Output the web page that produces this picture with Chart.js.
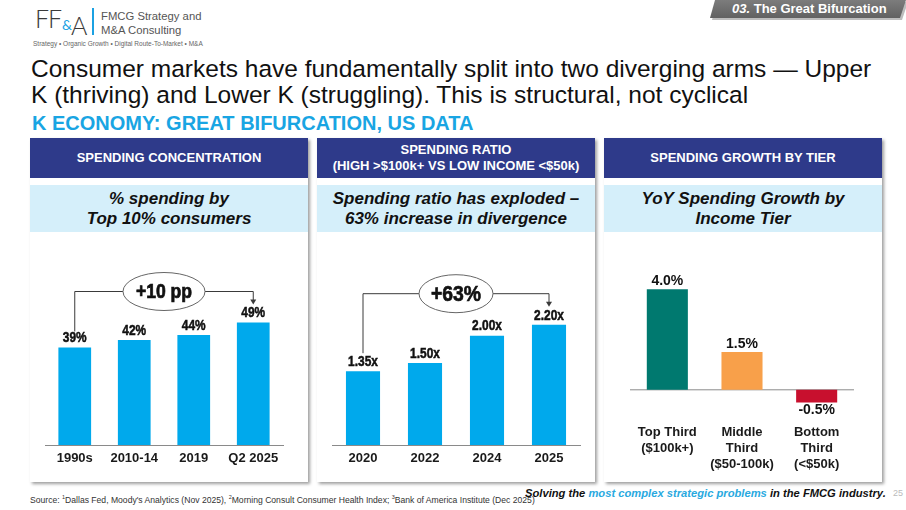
<!DOCTYPE html>
<html><head><meta charset="utf-8">
<script src="https://cdn.jsdelivr.net/npm/chart.js@4.4.1/dist/chart.umd.min.js"></script>
<style>
html,body{margin:0;padding:0;}
body{width:906px;height:510px;position:relative;overflow:hidden;background:#fff;font-family:"Liberation Sans",Arial,sans-serif;}
.abs{position:absolute;}
.card{position:absolute;top:138px;height:344px;width:278px;background:#fff;box-shadow:2px 2px 3px rgba(0,0,0,0.38);}
.hdr{position:absolute;left:0;top:0;width:100%;height:40px;background:#2E3A8A;color:#fff;font-weight:bold;font-size:13px;display:flex;align-items:center;justify-content:center;text-align:center;line-height:16px;}
.sub{position:absolute;left:0;top:47px;width:100%;height:47px;background:#D5EFFA;color:#111;font-weight:bold;font-style:italic;font-size:17px;line-height:20px;display:flex;align-items:center;justify-content:center;text-align:center;}
canvas{position:absolute;}
</style></head>
<body>
<!-- logo -->
<div class="abs" style="left:35px;top:3px;font-family:Lato,'Open Sans',sans-serif;font-weight:300;font-size:25px;color:#3a3a3a;letter-spacing:-1px;">FF</div>
<div class="abs" style="left:62px;top:16px;font-family:Lato,sans-serif;font-weight:400;font-size:14px;color:#1BA1E2;">&amp;</div>
<div class="abs" style="left:71px;top:10px;font-family:Lato,sans-serif;font-weight:300;font-size:25px;color:#3a3a3a;">A</div>
<div class="abs" style="left:92px;top:8px;width:1.5px;height:27px;background:#1BA1E2;"></div>
<div class="abs" style="left:101px;top:9px;font-size:11.3px;line-height:14px;color:#555;">FMCG Strategy and<br>M&amp;A Consulting</div>
<div class="abs" style="left:33px;top:40px;font-size:6.5px;color:#666;white-space:nowrap;">Strategy • Organic Growth • Digital Route-To-Market • M&amp;A</div>

<!-- tab -->
<div class="abs" style="left:712px;top:2px;width:196px;height:18px;background:#bdbdbd;clip-path:polygon(5px 0,100% 0,calc(100% - 6px) 100%,0 100%);"></div>
<div class="abs" style="left:710px;top:0;width:196px;height:18px;background:linear-gradient(#7c7c7c,#616161);clip-path:polygon(5px 0,100% 0,calc(100% - 6px) 100%,0 100%);"></div>
<div class="abs" style="left:732px;top:1px;font-size:13px;line-height:16px;font-weight:bold;color:#fff;white-space:nowrap;"><i>03.</i> The Great Bifurcation</div>

<!-- title -->
<div class="abs" style="left:31px;top:55.5px;font-size:24.5px;line-height:26px;color:#111;white-space:nowrap;">Consumer markets have fundamentally split into two diverging arms — Upper<br>K (thriving) and Lower K (struggling). This is structural, not cyclical</div>
<div class="abs" style="left:32px;top:111.5px;font-size:20px;line-height:22px;font-weight:bold;color:#19A5E3;white-space:nowrap;">K ECONOMY: GREAT BIFURCATION, US DATA</div>

<!-- cards -->
<div class="card" style="left:30px;"><div class="hdr">SPENDING CONCENTRATION</div><div class="sub">% spending by<br>Top 10% consumers</div></div>
<div class="card" style="left:317px;"><div class="hdr">SPENDING RATIO<br>(HIGH &gt;$100k+ VS LOW INCOME &lt;$50k)</div><div class="sub">Spending ratio has exploded –<br>63% increase in divergence</div></div>
<div class="card" style="left:604px;"><div class="hdr">SPENDING GROWTH BY TIER</div><div class="sub">YoY Spending Growth by<br>Income Tier</div></div>

<canvas id="c1" width="280" height="230" style="left:30px;top:250px;"></canvas>
<canvas id="c2" width="278" height="230" style="left:318px;top:250px;"></canvas>
<canvas id="c3" width="278" height="230" style="left:605px;top:250px;"></canvas>

<!-- footer -->
<div class="abs" style="left:30px;top:492px;font-size:8.6px;line-height:10px;color:#333;white-space:nowrap;">Source: <sup style="font-size:5.5px">1</sup>Dallas Fed, Moody's Analytics (Nov 2025), <sup style="font-size:5.5px">2</sup>Morning Consult Consumer Health Index; <sup style="font-size:5.5px">3</sup>Bank of America Institute (Dec 2025)</div>
<div class="abs" style="left:525px;top:487px;font-size:11.2px;line-height:13px;font-weight:bold;font-style:italic;color:#111;white-space:nowrap;">Solving the <span style="color:#29A9E0">most complex strategic problems</span> in the FMCG industry.</div>
<div class="abs" style="left:893px;top:487px;font-size:9px;line-height:13px;color:#bbb;">25</div>

<script>
// ---- data ----
const concLabels = ['1990s', '2010-14', '2019', 'Q2 2025'];
const concValues = [39, 42, 44, 49];
const concDelta = '+10 pp';

const ratioLabels = ['2020', '2022', '2024', '2025'];
const ratioValues = [1.35, 1.50, 2.00, 2.20];
const ratioDelta = '+63%';

const tierLabels = [['Top Third', '($100k+)'], ['Middle', 'Third', '($50-100k)'], ['Bottom', 'Third', '(<$50k)']];
const tierValues = [4.0, 1.5, -0.5];
const tierColors = ['#00796F', '#F8A04A', '#C8102E'];

const FONT = '"Liberation Sans", Arial, sans-serif';

const valueLabels = {
  id: 'valueLabels',
  afterDatasetsDraw(chart, args, opts) {
    if (!opts.format) return;
    const ctx = chart.ctx;
    const meta = chart.getDatasetMeta(0);
    const data = chart.data.datasets[0].data;
    meta.data.forEach((bar, i) => {
      const v = data[i];
      const txt = opts.format(v);
      const y = v >= 0 ? bar.y - opts.offset : bar.y + opts.offset;
      ctx.save();
      ctx.font = opts.font;
      ctx.fillStyle = '#111';
      ctx.textAlign = 'center';
      ctx.textBaseline = 'middle';
      ctx.translate(bar.x, y);
      ctx.scale(opts.sx || 1, 1);
      ctx.fillText(txt, 0, 0);
      if (opts.heavy) { ctx.strokeStyle = '#111'; ctx.lineWidth = 0.5; ctx.strokeText(txt, 0, 0); }
      ctx.restore();
    });
  }
};

const bracket = {
  id: 'bracket',
  afterDatasetsDraw(chart, args, opts) {
    if (!opts.text) return;
    const ctx = chart.ctx;
    const meta = chart.getDatasetMeta(0);
    const first = meta.data[0], last = meta.data[meta.data.length - 1];
    const topY = Math.min(...meta.data.map(b => b.y));
    const by = topY - opts.rise;
    const x1 = first.x, x2 = last.x;
    const y1 = first.y - opts.gapFirst, y2 = last.y - opts.gapLast;
    const cx = chart.scales.x.getPixelForValue(opts.mid);
    ctx.save();
    ctx.strokeStyle = '#3a3a3a';
    ctx.lineWidth = 1;
    ctx.beginPath();
    ctx.moveTo(x1, y1); ctx.lineTo(x1, by); ctx.lineTo(x2, by); ctx.lineTo(x2, y2 - 4);
    ctx.stroke();
    ctx.fillStyle = '#3a3a3a';
    ctx.beginPath();
    ctx.moveTo(x2 - 3, y2 - 5); ctx.lineTo(x2 + 3, y2 - 5); ctx.lineTo(x2, y2); ctx.closePath();
    ctx.fill();
    ctx.beginPath();
    ctx.ellipse(cx, by, opts.rx, opts.ry, 0, 0, Math.PI * 2);
    ctx.fillStyle = '#fff';
    ctx.fill();
    ctx.strokeStyle = '#666';
    ctx.stroke();
    ctx.fillStyle = '#111';
    ctx.font = opts.font;
    ctx.textAlign = 'center';
    ctx.textBaseline = 'middle';
    ctx.translate(cx, by + 1);
    ctx.scale(opts.sx || 1, 1);
    ctx.fillText(opts.text, 0, 0);
    ctx.strokeStyle = '#111'; ctx.lineWidth = 0.7; ctx.strokeText(opts.text, 0, 0);
    ctx.restore();
  }
};

const zeroLine = {
  id: 'zeroLine',
  beforeDatasetsDraw(chart, args, opts) {
    if (!opts.show) return;
    const ctx = chart.ctx, a = chart.chartArea;
    const y = chart.scales.y.getPixelForValue(0);
    ctx.save();
    ctx.strokeStyle = '#8a8a8a';
    ctx.lineWidth = 1;
    ctx.beginPath(); ctx.moveTo(a.left, y); ctx.lineTo(a.right, y); ctx.stroke();
    ctx.restore();
  }
};

function makeChart(id, labels, values, colors, cfg) {
  return new Chart(document.getElementById(id), {
    type: 'bar',
    data: { labels: labels, datasets: [{ data: values, backgroundColor: colors, borderWidth: 0, barPercentage: 0.55, categoryPercentage: 1 }] },
    options: {
      responsive: false, animation: false, devicePixelRatio: window.devicePixelRatio || 1,
      layout: { padding: cfg.padding },
      plugins: {
        legend: { display: false }, tooltip: { enabled: false },
        valueLabels: cfg.labels,
        bracket: cfg.bracket || {},
        zeroLine: { show: !!cfg.zero }
      },
      scales: {
        x: {
          grid: { display: false, drawTicks: false },
          border: { display: cfg.axisLine, color: '#8a8a8a', width: 1 },
          ticks: { color: '#1a1a1a', font: { family: FONT, weight: 'bold', size: 13, lineHeight: 1.25 }, padding: cfg.tickPad, maxRotation: 0, autoSkip: false },
          afterFit: s => { s.height = cfg.axisH; }
        },
        y: { display: false, min: cfg.min, max: cfg.max }
      }
    },
    plugins: [zeroLine, valueLabels, bracket]
  });
}

makeChart('c1', concLabels, concValues, '#00A9EC', {
  padding: { left: 15, right: 27, top: 20, bottom: 5 }, axisH: 30, tickPad: 5, axisLine: true,
  min: 0, max: 70,
  labels: { format: v => v + '%', font: 'bold 14px ' + FONT, sx: 0.85, offset: 9, heavy: true },
  bracket: { text: concDelta, mid: 1.5, rise: 31, gapFirst: 16, gapLast: 18, rx: 41, ry: 19, font: 'bold 20px ' + FONT, sx: 0.88 }
});

makeChart('c2', ratioLabels, ratioValues, '#00A9EC', {
  padding: { left: 14, right: 16, top: 20, bottom: 5 }, axisH: 30, tickPad: 5, axisLine: true,
  min: 0, max: 3.2,
  labels: { format: v => v.toFixed(2) + 'x', font: 'bold 14px ' + FONT, sx: 0.85, offset: 9, heavy: true },
  bracket: { text: ratioDelta, mid: 1.5, rise: 31, gapFirst: 18, gapLast: 18, rx: 37, ry: 19, font: 'bold 22px ' + FONT, sx: 0.88 }
});

makeChart('c3', tierLabels, tierValues, tierColors, {
  padding: { left: 25, right: 29, top: 19, bottom: 0 }, axisH: 60, tickPad: 4, axisLine: false, zero: true,
  min: -1.2, max: 4.8,
  labels: { format: v => v.toFixed(1) + '%', font: 'bold 14px ' + FONT, sx: 1, offset: 8 }
});
</script>
</body></html>
